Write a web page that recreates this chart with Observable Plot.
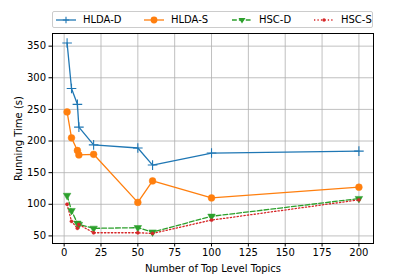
<!DOCTYPE html>
<html>
<head>
<meta charset="utf-8">
<script src="https://cdn.jsdelivr.net/npm/d3@7"></script>
<script src="https://cdn.jsdelivr.net/npm/@observablehq/plot@0.6"></script>
<style>
  html, body { margin: 0; padding: 0; background: #fff; }
  #wrap { position: relative; width: 415px; height: 277px; font-family: "DejaVu Sans", sans-serif; }
  #legend { position: absolute; left: 52px; top: 11px; width: 319px; height: 15px; border: 1px solid #cccccc; border-radius: 2px; background: #fff; display: flex; align-items: center; font-size: 10px; color: #000; }
  .item { position: absolute; top: 0; height: 15px; display: flex; align-items: center; }
  .item svg { margin-right: 7px; }
</style>
</head>
<body>
<div id="wrap"><div id="legend"></div></div>
<script>
const topics = [2, 5, 9, 10, 20, 50, 60, 100, 200];
const hldaD = [355, 283, 258, 222, 194, 189, 162, 181, 184];
const hldaS = [246, 205, 185, 178, 179, 103, 137, 110, 127];
const hscD  = [114, 90, 70, 68, 62, 63, 56, 81, 109];
const hscS  = [100, 73, 62, 68, 55, 55, 54, 75, 107];
const seriesNames = ["HLDA-D", "HLDA-S", "HSC-D", "HSC-S"];
const seriesValues = [hldaD, hldaS, hscD, hscS];
const colors = ["#1f77b4", "#ff7f0e", "#2ca02c", "#d62728"];
const xTicks = [0, 25, 50, 75, 100, 125, 150, 175, 200];
const yTicks = [50, 100, 150, 200, 250, 300, 350];

const data = seriesNames.flatMap((s, i) => topics.map((t, j) => ({series: s, x: t, y: seriesValues[i][j]})));
const sel = s => data.filter(d => d.series === s);

const lw = 1.3;
const styles = {
  "HLDA-D": {dash: null},
  "HLDA-S": {dash: null},
  "HSC-D": {dash: `${3.7*lw},${1.6*lw}`},
  "HSC-S": {dash: `${1*lw},${1.65*lw}`}
};

const chart = Plot.plot({
  width: 415,
  height: 277,
  marginLeft: 52,
  marginRight: 42,
  marginTop: 33,
  marginBottom: 34,
  style: {fontFamily: "DejaVu Sans, sans-serif", fontSize: "10px", color: "#000", background: "#fff"},
  x: {domain: [-7.9, 209.9]},
  y: {domain: [38, 370]},
  marks: [
    Plot.gridX(xTicks, {stroke: "#b0b0b0", strokeOpacity: 1, strokeWidth: 0.8}),
    Plot.gridY(yTicks, {stroke: "#b0b0b0", strokeOpacity: 1, strokeWidth: 0.8}),
    ...seriesNames.map((s, i) => Plot.line(sel(s), {x: "x", y: "y", stroke: colors[i], strokeWidth: lw, strokeDasharray: styles[s].dash})),
    Plot.dot(sel("HLDA-D"), {x: "x", y: "y", symbol: "plus", r: 3.2, stroke: colors[0], strokeWidth: 1.1}),
    Plot.dot(sel("HLDA-S"), {x: "x", y: "y", symbol: "circle", r: 3.4, fill: colors[1], stroke: colors[1], strokeWidth: 0.5}),
    Plot.dot(sel("HSC-D"), {x: "x", y: "y", symbol: "triangle2", rotate: 180, r: 3.6, fill: colors[2], stroke: colors[2], strokeWidth: 0.5}),
    Plot.dot(sel("HSC-S"), {x: "x", y: "y", symbol: "circle", r: 1.7, fill: colors[3], stroke: colors[3], strokeWidth: 0.3}),
    Plot.axisX(xTicks, {tickSize: 3.5, tickPadding: 2, label: "Number of Top Level Topics", labelAnchor: "center", labelArrow: "none", labelOffset: 28, fontSize: 10}),
    Plot.axisY(yTicks, {tickSize: 3.5, tickPadding: 3, label: "Running Time (s)", labelAnchor: "center", labelArrow: "none", labelOffset: 38, fontSize: 10}),
    Plot.frame({stroke: "#000", strokeWidth: 1})
  ]
});
const wrap = document.getElementById("wrap");
wrap.insertBefore(chart, wrap.firstChild);

// legend
const legend = document.getElementById("legend");
const lefts = [3, 91, 179, 261];
seriesNames.forEach((s, i) => {
  const item = document.createElement("div");
  item.className = "item";
  item.style.left = lefts[i] + "px";
  const ns = "http://www.w3.org/2000/svg";
  const svg = document.createElementNS(ns, "svg");
  svg.setAttribute("width", 20); svg.setAttribute("height", 10);
  const line = document.createElementNS(ns, "line");
  line.setAttribute("x1", 0); line.setAttribute("x2", 20); line.setAttribute("y1", 5); line.setAttribute("y2", 5);
  line.setAttribute("stroke", colors[i]); line.setAttribute("stroke-width", lw);
  if (styles[s].dash) line.setAttribute("stroke-dasharray", styles[s].dash);
  svg.appendChild(line);
  let m;
  if (s === "HLDA-D") {
    m = document.createElementNS(ns, "path");
    m.setAttribute("d", "M10,1.8V8.2M6.8,5H13.2");
    m.setAttribute("stroke", colors[i]); m.setAttribute("stroke-width", 1.1);
  } else if (s === "HLDA-S") {
    m = document.createElementNS(ns, "circle");
    m.setAttribute("cx", 10); m.setAttribute("cy", 5); m.setAttribute("r", 3.4); m.setAttribute("fill", colors[i]);
  } else if (s === "HSC-D") {
    m = document.createElementNS(ns, "path");
    m.setAttribute("d", "M6.5,3L13.5,3L10,8.5Z"); m.setAttribute("fill", colors[i]);
  } else {
    m = document.createElementNS(ns, "circle");
    m.setAttribute("cx", 10); m.setAttribute("cy", 5); m.setAttribute("r", 1.7); m.setAttribute("fill", colors[i]);
  }
  svg.appendChild(m);
  item.appendChild(svg);
  const t = document.createElement("span");
  t.textContent = s;
  item.appendChild(t);
  legend.appendChild(item);
});
</script>
</body>
</html>
